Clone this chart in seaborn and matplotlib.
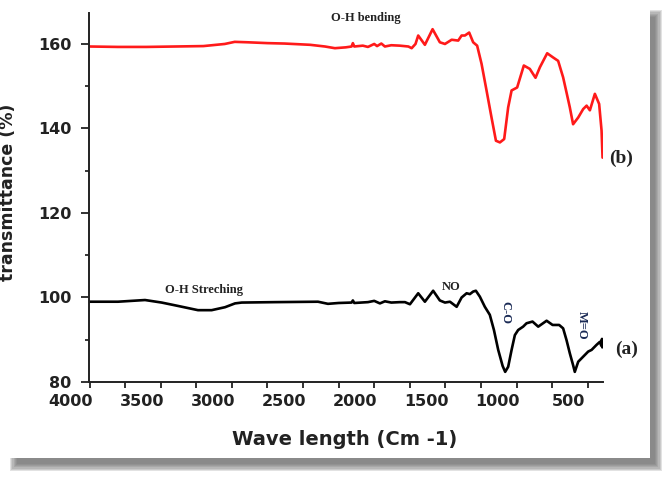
import matplotlib
matplotlib.use("Agg")
import matplotlib.pyplot as plt
import matplotlib.transforms as mtransforms
from matplotlib.patches import Rectangle
from matplotlib.ticker import MultipleLocator
import seaborn as sns

# spectrum (b), red
wave_b = [4000, 3800, 3600, 3400, 3200, 3050, 2980, 2890, 2750, 2630, 2450, 2346,
          2276, 2200, 2159, 2150, 2140, 2080, 2044, 2000, 1980, 1950, 1925, 1880,
          1820, 1760, 1737, 1710, 1691, 1644, 1590, 1539, 1503, 1456, 1410, 1386,
          1363, 1333, 1305, 1277, 1246, 1211, 1176, 1145, 1117, 1087, 1059, 1035,
          996, 949, 907, 867, 836, 785, 743, 708, 673, 649, 626, 603, 567, 532,
          508, 485, 450, 420, 403, 396]
trans_b = [159.4, 159.3, 159.3, 159.4, 159.5, 160.0, 160.5, 160.4, 160.2, 160.1, 159.8, 159.4,
           159.0, 159.2, 159.4, 160.2, 159.4, 159.6, 159.3, 160.0, 159.5, 160.1, 159.4, 159.7,
           159.6, 159.4, 159.0, 160.0, 162.0, 159.8, 163.5, 160.4, 160.0, 161.0, 160.8, 162.0,
           162.0, 162.7, 160.4, 159.6, 155.3, 149.0, 142.6, 137.1, 136.7, 137.5, 145.0, 149.0,
           149.7, 154.9, 154.1, 152.0, 154.5, 157.8, 156.8, 156.0, 152.1, 148.5, 145.0, 141.0,
           142.6, 144.6, 145.4, 144.3, 148.2, 145.8, 139.5, 133.1]

# spectrum (a), black
wave_a = [4000, 3800, 3610, 3493, 3378, 3238, 3142, 3048, 2978, 2931, 2700, 2395,
          2325, 2250, 2159, 2150, 2140, 2044, 2000, 1960, 1925, 1880, 1820, 1784,
          1749, 1691, 1644, 1586, 1539, 1503, 1468, 1421, 1386, 1351, 1328, 1305,
          1286, 1258, 1223, 1188, 1159, 1129, 1098, 1080, 1059, 1035, 1012, 989,
          954, 930, 888, 848, 789, 747, 701, 673, 649, 626, 603, 591, 567, 532,
          497, 473, 438, 415, 405, 400, 398]
trans_a = [99.0, 99.0, 99.4, 98.8, 98.0, 97.0, 97.0, 97.7, 98.6, 98.8, 98.9, 99.0,
           98.5, 98.7, 98.8, 99.3, 98.7, 98.9, 99.2, 98.6, 99.1, 98.8, 98.9, 98.9,
           98.4, 101.0, 99.0, 101.6, 99.3, 98.8, 99.0, 97.8, 100.0, 101.0, 100.8, 101.4,
           101.6, 100.2, 97.8, 95.9, 92.3, 87.6, 83.8, 82.4, 83.6, 87.6, 91.1, 92.3,
           93.1, 93.9, 94.3, 93.1, 94.5, 93.5, 93.5, 92.7, 89.9, 86.8, 84.0, 82.4,
           84.8, 86.0, 87.2, 87.6, 88.8, 89.5, 88.6, 90.2, 88.2]

# band labels: text, wavenumber, transmittance, rotation, colour
bands = [
    ("O-H bending", 2058, 166.2, 0, "#222222"),
    ("O-H Streching", 3199, 101.8, 0, "#222222"),
    ("NO", 1461, 102.4, 0, "#222222"),
    ("C-O", 1077, 96.5, -90, "#1a2a55"),
    ("M=O", 544, 93.3, -90, "#1a2a55"),
]
curve_tags = [("(a)", 228, 87.8), ("(b)", 269, 133.0)]

sns.set_style("ticks")
plt.rcParams['font.family'] = ['DejaVu Sans']

fig = plt.figure(figsize=(6.69, 4.80), dpi=100)
W, H = 669.0, 480.0

# drop shadow behind a white sheet
for k in range(7):
    d = k * 1.2
    fig.patches.append(Rectangle(((10 + d) / W, 1 - (471 - d) / H),
                                 (652 - 2 * d) / W, (461 - 2 * d) / H,
                                 transform=fig.transFigure, facecolor="#6e6e6e",
                                 edgecolor="none", alpha=0.2, zorder=-3))
fig.patches.append(Rectangle((0, 1 - 458 / H), 650 / W, 458 / H,
                             transform=fig.transFigure, facecolor="white",
                             edgecolor="none", zorder=-2))

ax = fig.add_axes([89.5 / W, 1 - 382 / H, 513.2 / W, 369.3 / H])
ax.set_facecolor("none")

sns.lineplot(x=wave_b, y=trans_b, ax=ax, color="#ff1a1a", linewidth=1.9, sort=False, estimator=None)
sns.lineplot(x=wave_a, y=trans_a, ax=ax, color="black", linewidth=1.9, sort=False, estimator=None)

ax.set_xlim(4000, 395)
ax.set_ylim(80, 167.4)
ax.xaxis.set_major_locator(MultipleLocator(500))
ax.xaxis.set_minor_locator(MultipleLocator(250))
ax.yaxis.set_major_locator(MultipleLocator(20))
ax.yaxis.set_minor_locator(MultipleLocator(10))

for s in ["top", "right"]:
    ax.spines[s].set_visible(False)
for s in ["left", "bottom"]:
    ax.spines[s].set_linewidth(1.4)
    ax.spines[s].set_color("#222222")

ax.tick_params(axis="x", which="both", direction="out", length=4.5, width=1.3, pad=4,
               labelsize=11.5, colors="#222222")
ax.tick_params(axis="y", which="major", direction="out", length=6, width=1.3, pad=7,
               labelsize=11.5, colors="#222222")
ax.tick_params(axis="y", which="minor", direction="out", length=3, width=1.3)
for lab in ax.get_xticklabels() + ax.get_yticklabels():
    lab.set_fontweight("bold")

# x tick labels sit a little left of their ticks in the original
shift = mtransforms.ScaledTranslation(-0.19, 0, fig.dpi_scale_trans)
for lab in ax.get_xticklabels():
    lab.set_transform(lab.get_transform() + shift)

ax.set_xlabel("Wave length (Cm -1)", fontsize=14, fontweight="bold", color="#222222")
ax.set_ylabel("transmittance (%)", fontsize=12.5, fontweight="bold", color="#222222")
ax.xaxis.label.set_va("center")
ax.xaxis.set_label_coords(0.498, -0.157)
ax.yaxis.set_label_coords(-0.142, 0.514)

for txt, x, y, rot, col in bands:
    ax.text(x, y, txt, rotation=rot, ha="center", va="center", fontsize=9,
            fontweight="bold", family="Liberation Serif", color=col, clip_on=False)
for txt, x, y in curve_tags:
    ax.text(x, y, txt, ha="center", va="center", fontsize=14, fontweight="bold",
            family="Liberation Serif", color="#222222", clip_on=False)

fig.savefig("out.png", dpi=100)
